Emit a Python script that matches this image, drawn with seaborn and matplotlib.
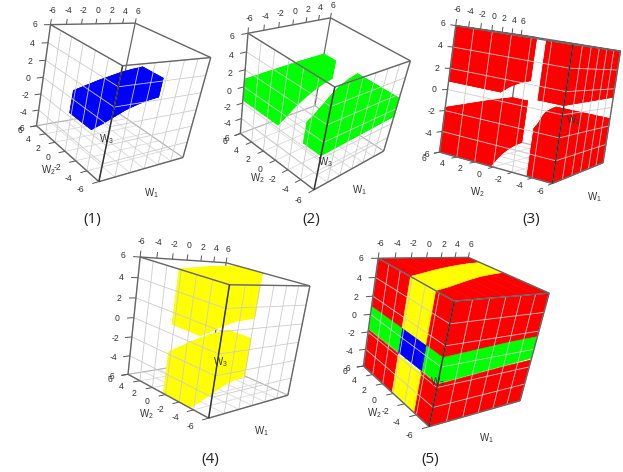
import numpy as np
import matplotlib
matplotlib.use("Agg")
import matplotlib.pyplot as plt
import seaborn as sns
from mpl_toolkits.mplot3d.art3d import Poly3DCollection, Line3DCollection
from mpl_toolkits.mplot3d import proj3d

sns.set_theme(style="white")
plt.rcParams['font.family'] = ['Liberation Sans', 'DejaVu Sans']
plt.rcParams['mathtext.default'] = 'regular'

# ---------- data ----------
w1_stations = [-6, -4, -2, 0, 2, 4, 6]
w2_lower = [-3.5, -2.8, -2.0, -1.2, -0.5, 0.0, 0.4]
w2_upper = [0.3, 1.1, 1.9, 2.6, 3.2, 3.7, 4.0]
blue_w2_lower = [-3.5, -2.9, -2.2, -1.5, -1.0, -0.6, -0.4]
blue_w2_upper = [0.3, 0.9, 1.5, 2.0, 2.5, 2.9, 3.2]
green_w3_lower = [-1.6, -1.5, -1.4, -1.3, -1.2, -1.1, -1.0]
green_w3_upper = [0.9, 1.0, 1.1, 1.2, 1.3, 1.35, 1.4]
yellow_w3_lower = [-1.8, -1.75, -1.7, -1.65, -1.6, -1.55, -1.5]
yellow_w3_upper = [0.9, 0.95, 1.0, 1.0, 1.0, 0.95, 0.9]
red_w3_lower = [-1.7, -1.6, -1.5, -1.4, -1.3, -1.25, -1.2]
red_w3_upper = [0.8, 0.85, 0.9, 0.95, 1.0, 1.05, 1.1]
ticks = [-6, -4, -2, 0, 2, 4, 6]
captions = ["(1)", "(2)", "(3)", "(4)", "(5)"]
BLUE, GREEN, YELLOW, RED = "#0000FF", "#00FF00", "#FFFF00", "#FF0000"

# ---------- layout: where each cube's corners sit in the figure (pixels) ----------
W, H = 623, 472
CORNERS = {
    0: dict(A=(50.7, 24.3), B=(135.7, 23.3), F=(121.7, 65.7), G=(210.7, 57.7), C=(36.7, 126), D=(99.3, 181.7), E=(183.3, 157.3), H=(116, 111.7)),
    1: dict(A=(249.3, 34.3), B=(327.3, 16.7), F=(336.7, 88.3), G=(411, 60), C=(238.3, 130.7), D=(313.3, 190.7), E=(382.3, 150), H=(318.3, 108.3)),
    2: dict(A=(455, 27.3), B=(522, 34), F=(573.3, 43.3), G=(620, 51.7), C=(439.3, 151.7), D=(553, 183.3), E=(602.7, 163.3)),
    3: dict(A=(140.7, 258.3), B=(223.3, 262.3), F=(231.7, 285), G=(310.7, 285), C=(126, 372.7), D=(208.3, 418.3), E=(285.7, 395.7), H=(215, 361.7)),
    4: dict(A=(378.3, 258.3), B=(468.3, 257.3), F=(454, 301), G=(549.3, 293.3), C=(363.3, 366), D=(429.3, 426.7), E=(520, 400.7)),
}
SIGNS = dict(A=(-1, 1, 1), B=(1, 1, 1), F=(-1, -1, 1), G=(1, -1, 1), C=(-1, 1, -1), D=(-1, -1, -1), E=(1, -1, -1), H=(1, 1, -1))
BOXES = [(-5, 0, 225), (225, 0, 205), (425, 5, 198), (105, 240, 215), (345, 240, 215)]
LABELS = [
    [(151.5, 193), (48, 170), (106, 139)],
    [(359, 190), (257.7, 178.3), (325, 161.7)],
    [(594, 197.3), (477.7, 191.7), (573.3, 120)],
    [(261, 431), (146, 414.3), (220, 362.3)],
    [(486, 438.3), (374.3, 413.3), (437.3, 381.7)],
]
CAPTION_XY = [(92.3, 219), (311.7, 219.3), (531, 219), (210.7, 459.3), (430, 460)]


def fit_camera(corners):
    rows = []
    for k, (u, v) in corners.items():
        X = np.array([*SIGNS[k], 1.0])
        X[:3] *= 6
        rows.append(np.r_[X, np.zeros(4), -u * X])
        rows.append(np.r_[np.zeros(4), X, -v * X])
    A = np.array(rows)
    scale = np.array([200, 200, 200, 1] * 3, float)   # condition the system
    _, _, vt = np.linalg.svd(A * scale)
    P = (vt[-1] * scale).reshape(3, 4)
    if P[2, 3] < 0:
        P = -P
    return P


def cube_axes(fig, idx):
    left, top, size = BOXES[idx]
    ax = fig.add_axes([left / W, 1 - (top + size) / H, size / W, size / H],
                      projection="3d", computed_zorder=False)
    ax.set_axis_off()
    ax.patch.set_visible(False)
    ax.set_autoscale_on(False)
    P = fit_camera(CORNERS[idx])

    def get_proj():
        vl = ax.viewLim
        a = (vl.x1 - vl.x0) / size
        d = (vl.y1 - vl.y0) / size
        T = np.array([[a, 0, vl.x0 - a * left],
                      [0, -d, vl.y0 + d * (top + size)],
                      [0, 0, 1.0]])
        Q = T @ P
        return np.array([Q[0], Q[1], [0, 0, 0, 1.0], Q[2]])

    ax.get_proj = get_proj
    return ax


def solid(y0, y1, z0, z1):
    """Quads of a body running along W1 with W2 in [y0,y1], W3 in [z0,z1]."""
    s = np.asarray(w1_stations, float)
    y0, y1 = np.broadcast_to(y0, s.shape), np.broadcast_to(y1, s.shape)
    z0, z1 = np.broadcast_to(z0, s.shape), np.broadcast_to(z1, s.shape)
    quads = []
    for i in range(len(s) - 1):
        j = i + 1
        quads += [
            [(s[i], y0[i], z0[i]), (s[j], y0[j], z0[j]), (s[j], y1[j], z0[j]), (s[i], y1[i], z0[i])],
            [(s[i], y0[i], z1[i]), (s[j], y0[j], z1[j]), (s[j], y1[j], z1[j]), (s[i], y1[i], z1[i])],
            [(s[i], y0[i], z0[i]), (s[j], y0[j], z0[j]), (s[j], y0[j], z1[j]), (s[i], y0[i], z1[i])],
            [(s[i], y1[i], z0[i]), (s[j], y1[j], z0[j]), (s[j], y1[j], z1[j]), (s[i], y1[i], z1[i])],
        ]
    for i in (0, -1):
        quads.append([(s[i], y0[i], z0[i]), (s[i], y1[i], z0[i]), (s[i], y1[i], z1[i]), (s[i], y0[i], z1[i])])
    return quads


a, b = np.array(w2_lower), np.array(w2_upper)
blue = [solid(np.array(blue_w2_lower), np.array(blue_w2_upper), np.array(green_w3_lower), np.array(green_w3_upper))]
cg, dg = np.array(green_w3_lower), np.array(green_w3_upper)
green = [solid(-6, a, cg, dg), solid(b, 6, cg, dg)]
cy, dy = np.array(yellow_w3_lower), np.array(yellow_w3_upper)
yellow = [solid(a, b, -6, cy), solid(a, b, dy, 6)]
cr, dr = np.array(red_w3_lower), np.array(red_w3_upper)
red = [solid(-6, a, -6, cr), solid(b, 6, -6, cr), solid(-6, a, dr, 6), solid(b, 6, dr, 6)]


def outer_only(quads):
    keep = []
    for q in quads:
        p = np.array(q)
        if np.all(p[:, 0] == -6) or np.all(p[:, 1] == -6) or np.all(p[:, 2] == 6):
            keep.append(q)
    return keep


def add_body(ax, bodies, color):
    for quads in bodies:
        ax.add_collection3d(Poly3DCollection(quads, facecolor=color, edgecolor=color,
                                             linewidth=0.4, zorder=2), autolim=False)


def add_lines(ax, segs, color, lw, zorder):
    ax.add_collection3d(Line3DCollection(segs, colors=color, linewidths=lw, zorder=zorder), autolim=False)


def label3d(ax, x, y, z, s, **kw):
    M = ax.get_proj()
    px, py, _ = proj3d.proj_transform(x, y, z, M)
    ax.text2D(px, py, s, transform=ax.transData, **kw)


def frame(ax, idx):
    floor, walls, tk = [], [], []
    txt = dict(ha="center", va="center", fontsize=6.2, color="#333333", zorder=5)
    for t in ticks:
        floor += [[(-6, t, -6), (6, t, -6)], [(t, -6, -6), (t, 6, -6)]]
        walls += [[(-6, t, -6), (-6, t, 6)], [(-6, -6, t), (-6, 6, t)],
                  [(t, -6, -6), (t, -6, 6)], [(-6, -6, t), (6, -6, t)]]
        tk += [[(t, 6, 6), (t, 6, 6.6)], [(-6, 6, t), (-6.8, 6, t)], [(-6, t, -6), (-6.8, t, -6)]]
        label3d(ax, t, 6, 7.5, str(t), **txt)
        label3d(ax, -7.9, 6, t, str(t), **txt)
        label3d(ax, -8.1, t, -6.3, str(t), **txt)
    add_lines(ax, floor, "#dadada", 0.6, 1)
    add_lines(ax, walls, "#cccccc", 0.6, 3)
    add_lines(ax, tk, "#555555", 0.7, 4)
    seg = lambda e: [tuple(6 * np.array(SIGNS[k])) for k in e]
    add_lines(ax, [seg(e) for e in ["AB", "BG", "AF", "FG", "DE", "GE", "AC", "CD"]], "#666666", 1.0, 4)
    add_lines(ax, [seg("FD")], "#333333", 1.1, 4)
    add_lines(ax, [seg("BH")], "#666666", 0.9, 1)
    add_lines(ax, [seg("CH"), seg("EH")], "#b5b5b5", 0.8, 1)


fig = plt.figure(figsize=(W / 100, H / 100), dpi=100, facecolor="white")

panels = [
    [(blue, BLUE)],
    [(green, GREEN)],
    [(red, RED)],
    [(yellow, YELLOW)],
    [(red, RED), (yellow, YELLOW), (green, GREEN), (blue, BLUE)],
]
for idx, bodies in enumerate(panels):
    ax = cube_axes(fig, idx)
    for group, color in bodies:
        if idx == 4:
            group = [outer_only(q) for q in group]
        add_body(ax, group, color)
    frame(ax, idx)
    for name, (x, y) in zip(["W$_1$", "W$_2$", "W$_3$"], LABELS[idx]):
        fig.text(x / W, 1 - y / H, name, ha="center", va="center", fontsize=7, color="#333333", zorder=10)
    x, y = CAPTION_XY[idx]
    fig.text(x / W, 1 - y / H, captions[idx], ha="center", va="center", fontsize=11,
             family="Open Sans", color="#222222")

fig.savefig("out.png", dpi=100)
